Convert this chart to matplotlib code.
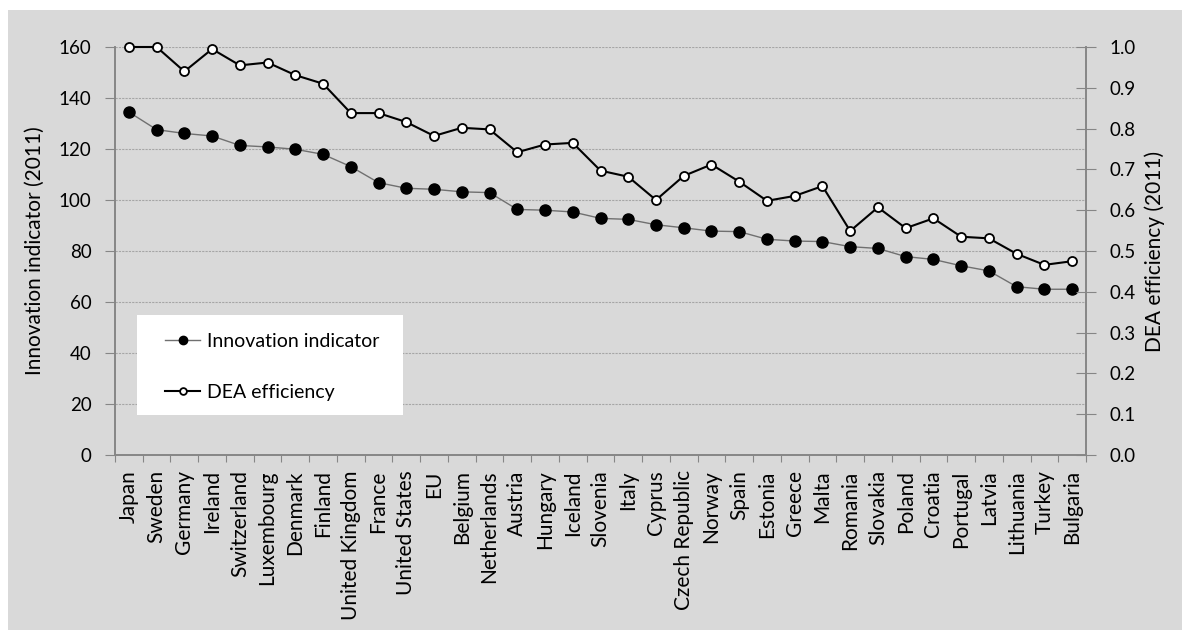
import matplotlib.pyplot as plt
from matplotlib.patches import Rectangle

# ── Data ──────────────────────────────────────────────
countries = ['Japan', 'Sweden', 'Germany', 'Ireland', 'Switzerland', 'Luxembourg',
             'Denmark', 'Finland', 'United Kingdom', 'France', 'United States', 'EU',
             'Belgium', 'Netherlands', 'Austria', 'Hungary', 'Iceland', 'Slovenia',
             'Italy', 'Cyprus', 'Czech Republic', 'Norway', 'Spain', 'Estonia',
             'Greece', 'Malta', 'Romania', 'Slovakia', 'Poland', 'Croatia',
             'Portugal', 'Latvia', 'Lithuania', 'Turkey', 'Bulgaria']

innovation = [134.5, 127.6, 126.1, 125.1, 121.4, 120.8, 119.9, 117.9, 113.1, 106.8,
              104.6, 104.2, 103.2, 102.9, 96.3, 96.0, 95.3, 92.8, 92.4, 90.3,
              89.1, 87.8, 87.6, 84.6, 83.9, 83.7, 81.7, 81.0, 77.8, 76.7,
              74.2, 72.2, 66.0, 65.0, 65.0]

dea = [1.0, 1.0, 0.940, 0.995, 0.955, 0.962, 0.931, 0.910, 0.838, 0.838,
       0.816, 0.782, 0.802, 0.798, 0.742, 0.761, 0.765, 0.697, 0.682, 0.625,
       0.684, 0.712, 0.670, 0.623, 0.635, 0.659, 0.549, 0.607, 0.556, 0.580,
       0.535, 0.531, 0.493, 0.466, 0.475]

left_ticks = [0, 20, 40, 60, 80, 100, 120, 140, 160]
right_ticks = [0.0, 0.1, 0.2, 0.3, 0.4, 0.5, 0.6, 0.7, 0.8, 0.9, 1.0]

# ── Style ─────────────────────────────────────────────
plt.rcParams['font.family'] = ['Lato', 'DejaVu Sans']
BG = '#d9d9d9'
SPINE = '#868686'

fig = plt.figure(figsize=(11.82, 6.30), dpi=100)
fig.patch.set_facecolor('white')
fig.patches.append(Rectangle((8 / 1182, 0), 1, 1 - 10 / 630, transform=fig.transFigure,
                             facecolor=BG, edgecolor='none', zorder=-10))

ax = fig.add_axes([115 / 1182, 1 - 455 / 630, 971 / 1182, 408 / 630])
ax.set_facecolor(BG)
ax2 = ax.twinx()

x = list(range(len(countries)))

# ── Lines ─────────────────────────────────────────────
l1, = ax.plot(x, innovation, color='#707070', linewidth=1.0, marker='o',
              markersize=8, markerfacecolor='black', markeredgecolor='black',
              zorder=3, clip_on=False)
l2, = ax2.plot(x, dea, color='black', linewidth=1.5, marker='o',
               markersize=6.5, markerfacecolor='white', markeredgecolor='black',
               markeredgewidth=1.3, zorder=3, clip_on=False)

# ── Axes ──────────────────────────────────────────────
ax.set_xlim(-0.5, len(countries) - 0.5)
ax.set_ylim(0, 160)
ax2.set_ylim(0, 1.0)
ax.set_yticks(left_ticks)
ax2.set_yticks(right_ticks)
ax2.set_yticklabels([f'{t:.1f}' for t in right_ticks])

ax.set_xticks([i - 0.5 for i in range(len(countries) + 1)])
ax.set_xticklabels([])
ax.set_xticks(x, minor=True)
ax.set_xticklabels(countries, minor=True, rotation=90, fontsize=15)
ax.tick_params(axis='x', which='minor', length=0, pad=11)
ax.tick_params(axis='x', which='major', length=5, color=SPINE, direction='out')
ax.tick_params(axis='y', length=7, color=SPINE, labelsize=13.5, pad=10)
ax2.tick_params(axis='y', length=14, color=SPINE, direction='inout',
                labelsize=13.5, pad=10)

ax.grid(axis='y', color='#a6a6a6', linestyle=(0, (2, 1)), linewidth=0.8)
ax.set_axisbelow(True)

for a in (ax, ax2):
    a.spines['top'].set_visible(False)
    for s in ('left', 'right', 'bottom'):
        a.spines[s].set_color(SPINE)
        a.spines[s].set_linewidth(1.2)

ax.set_ylabel('Innovation indicator (2011)', fontsize=15, labelpad=10)
ax2.set_ylabel('DEA efficiency (2011)', fontsize=15, labelpad=6)

# ── Legend: white box + frameless legend ──────────────
ax2.add_patch(Rectangle((0.0227, 0.098), 0.274, 0.245, transform=ax.transAxes,
                        facecolor='white', edgecolor='none', zorder=5))
leg = ax2.legend([l1, l2], ['Innovation indicator', 'DEA efficiency'],
                 loc='upper left', bbox_to_anchor=(0.0515, 0.299),
                 fontsize=14, frameon=False, handlelength=1.8,
                 handletextpad=0.35, labelspacing=1.75, borderpad=0,
                 borderaxespad=0, markerscale=0.75)
leg.set_zorder(6)

plt.savefig('out.png', dpi=100, facecolor='white')
